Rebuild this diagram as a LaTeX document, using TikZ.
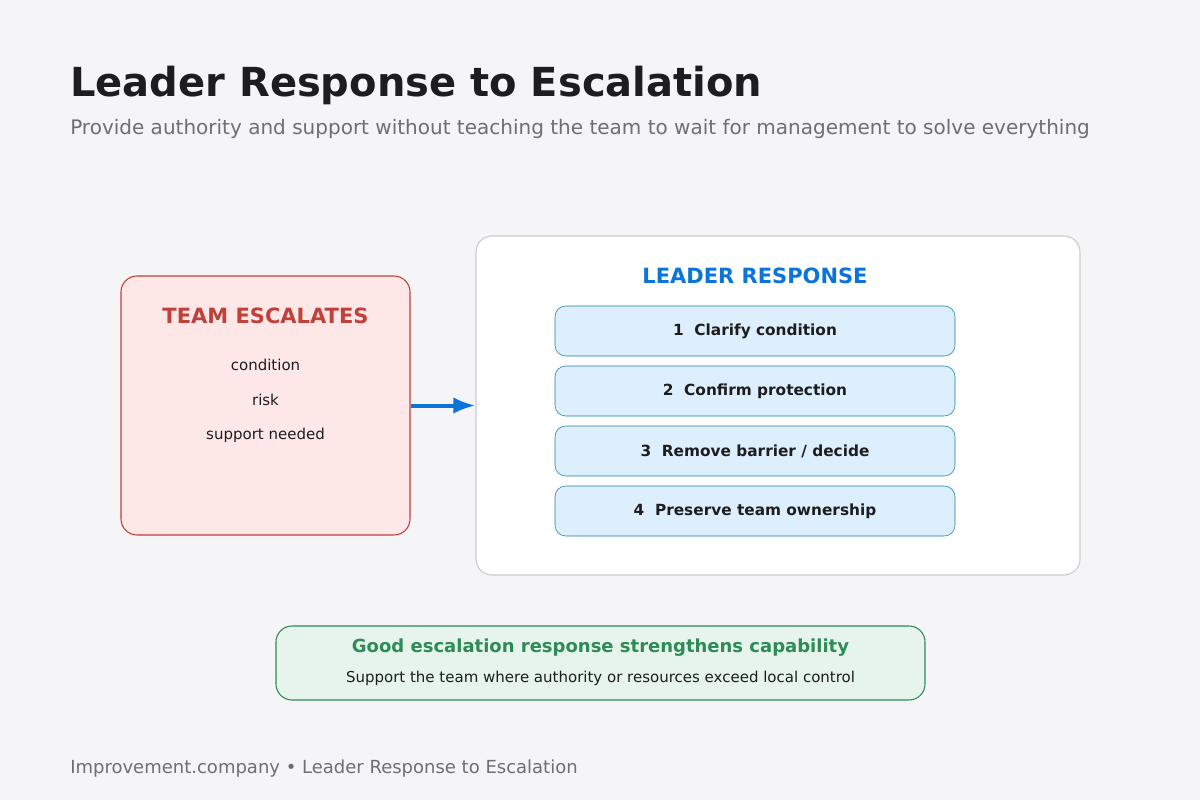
\documentclass[tikz,border=0pt]{standalone}
\usepackage{fontspec}
\setmainfont{DejaVu Sans}
\usetikzlibrary{arrows.meta}
\definecolor{bgc}{HTML}{F5F5F7}
\definecolor{redc}{HTML}{C0403A}
\definecolor{redf}{HTML}{FDE8E7}
\definecolor{bluec}{HTML}{0A74DA}
\definecolor{stepc}{HTML}{1A7FA8}
\definecolor{stepf}{HTML}{DDEEFC}
\definecolor{greenc}{HTML}{2E8B57}
\definecolor{greenf}{HTML}{E6F4EC}
\definecolor{greyc}{HTML}{6E6E73}
\definecolor{darkc}{HTML}{1D1D1F}
\begin{document}
\begin{tikzpicture}[x=0.75pt,y=-0.75pt,
	            box/.style={draw, rounded corners=12pt, thick},
	            stepbox/.style={
	            draw=stepc,
	            fill=stepf,
	            rounded corners=8pt,
	            minimum width=300pt,
	            minimum height=37.5pt,
	            font=\bfseries\fontsize{11.5}{14}\selectfont,
	            text=darkc
	            },
	            item/.style={font=\fontsize{11.25}{13}\selectfont, text=darkc},
	            >=Latex]
	        \fill[bgc] (0,0) rectangle (1200,800);
	        
	        \node[anchor=base west, inner sep=0pt, font=\bfseries\fontsize{30}{34}\selectfont, text=darkc] (title) at (70,96) {Leader Response to Escalation};
	        \node[anchor=base west, inner sep=0pt, font=\fontsize{15}{18}\selectfont, text=greyc] (sub) at (70,134) {Provide authority and support without teaching the team to wait for management to solve everything};
	        
	        \node[box, draw=redc, fill=redf, minimum width=216.75pt, minimum height=194.25pt] (team) at (265.5,405.5) {};
	        \node[font=\bfseries\fontsize{15.75}{18}\selectfont, text=redc] (teamt) at (265.5,316) {TEAM ESCALATES};
	        \node[item] (c1) at (265.5,365) {condition};
	        \node[item] (c2) at (265.5,400) {risk};
	        \node[item] (c3) at (265.5,435) {support needed};
	        
	        \node[box, draw=black!20, fill=white, minimum width=453pt, minimum height=254.25pt] (lead) at (778,405.5) {};
	        \node[font=\bfseries\fontsize{15.75}{18}\selectfont, text=bluec] (leadt) at (755,276) {LEADER RESPONSE};
	        \node[stepbox] (s1) at (755,331) {1\ \ Clarify condition};
	        \node[stepbox] (s2) at (755,391) {2\ \ Confirm protection};
	        \node[stepbox] (s3) at (755,451) {3\ \ Remove barrier / decide};
	        \node[stepbox] (s4) at (755,511) {4\ \ Preserve team ownership};
	        
	        \draw[->, bluec, line width=3pt] (team.east) -- (lead.west);
	        
	        \node[box, draw=greenc, fill=greenf, minimum width=486.75pt, minimum height=55.5pt] (note) at (600.5,663) {};
	        \node[font=\bfseries\fontsize{13.5}{16}\selectfont, text=greenc] (notet) at (600.5,648) {Good escalation response strengthens capability};
	        \node[item] (notes) at (600.5,678) {Support the team where authority or resources exceed local control};
	        
	        \node[anchor=base west, inner sep=0pt, font=\fontsize{13.5}{16}\selectfont, text=greyc] (foot) at (70,773) {Improvement.company • Leader Response to Escalation};
	    \end{tikzpicture}
\end{document}
